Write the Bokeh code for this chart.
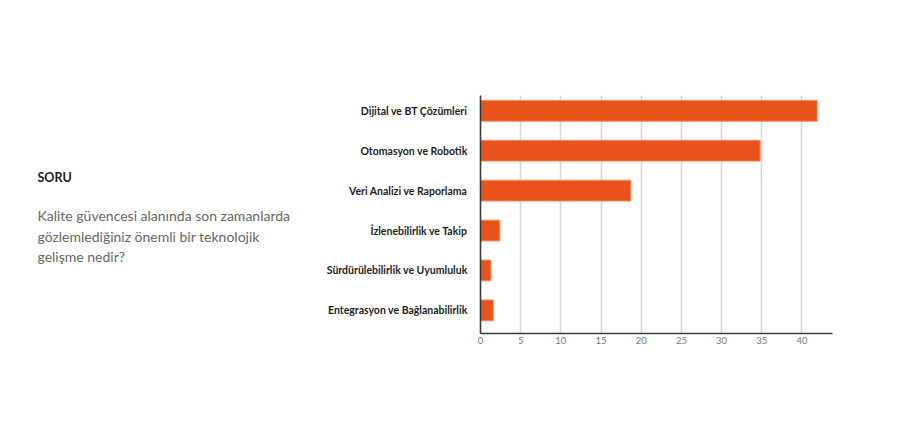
from bokeh.plotting import figure
from bokeh.layouts import row
from bokeh.models import Range1d, FixedTicker
from bokeh.core.properties import value
from bokeh.embed import file_html
from bokeh.resources import INLINE

categories = [
    "Dijital ve BT Çözümleri",
    "Otomasyon ve Robotik",
    "Veri Analizi ve Raporlama",
    "İzlenebilirlik ve Takip",
    "Sürdürülebilirlik ve Uyumluluk",
    "Entegrasyon ve Bağlanabilirlik",
]
values = [41.9, 34.8, 18.7, 2.4, 1.3, 1.6]
x_ticks = [0, 5, 10, 15, 20, 25, 30, 35, 40]

question_title = "SORU"
question_lines = [
    "Kalite güvencesi alanında son zamanlarda",
    "gözlemlediğiniz önemli bir teknolojik",
    "gelişme nedir?",
]

FONT = "Lato"
BAR = "#e9521b"
H = 418
TOP, BOTTOM = 95, 85

# left panel: question text; its frame lines up with the chart frame, data y = page pixels
txt = figure(width=320, height=H, output_backend="svg", toolbar_location=None,
             x_range=Range1d(0, 320), y_range=Range1d(H - BOTTOM, TOP),
             x_axis_location=None, y_axis_location=None,
             min_border_left=0, min_border_right=0, min_border_top=TOP, min_border_bottom=BOTTOM)
txt.outline_line_color = None
txt.grid.grid_line_color = None
txt.text(x=[37], y=[177], text=[question_title], text_font=value(FONT),
         text_font_style="bold", text_font_size="12.5px", text_color="#222222",
         text_baseline="middle")
txt.text(x=[37] * len(question_lines), y=[215 + i * 20.5 for i in range(len(question_lines))],
         text=question_lines, text_font=value(FONT), text_font_size="14px",
         text_color="#666666", text_baseline="middle")

pos = list(range(1, len(categories) + 1))

p = figure(width=572, height=H, output_backend="svg", toolbar_location=None,
           x_range=Range1d(0, 43.8), y_range=Range1d(6.58, 0.616),
           min_border_left=160, min_border_right=60, min_border_top=TOP, min_border_bottom=BOTTOM)

p.hbar(y=pos, right=values, left=0, height=0.52, fill_color=BAR,
       line_color="#f28a5e", line_width=1)

p.outline_line_color = None
p.ygrid.grid_line_color = None
p.xgrid.grid_line_color = "#d3d8d8"
p.xgrid.grid_line_width = 1.6

p.yaxis.ticker = FixedTicker(ticks=pos)
p.yaxis.major_label_overrides = {i: c for i, c in zip(pos, categories)}
p.xaxis.ticker = FixedTicker(ticks=x_ticks)

for ax in (p.xaxis, p.yaxis):
    ax.axis_line_color = "#3a3a3a"
    ax.axis_line_width = 1.6
    ax.major_tick_line_color = None
    ax.minor_tick_line_color = None
    ax.major_tick_out = 0
    ax.major_label_text_font = FONT

p.yaxis.major_label_text_font_style = "bold"
p.yaxis.major_label_text_font_size = "10.5px"
p.yaxis.major_label_text_color = "#1e1e1e"
p.yaxis.major_label_standoff = 13
p.xaxis.major_label_text_font_size = "9.5px"
p.xaxis.major_label_text_color = "#777777"
p.xaxis.major_label_standoff = 3

layout = row(txt, p)

open("out.html", "w").write(file_html(layout, INLINE))
